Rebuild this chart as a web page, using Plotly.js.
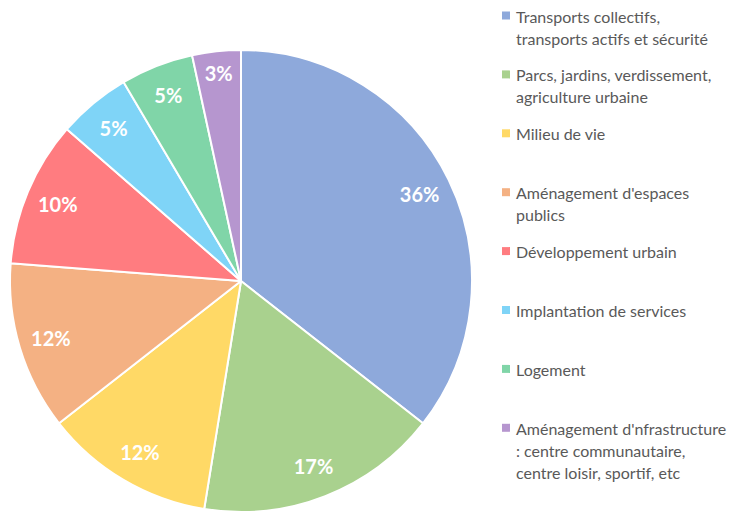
<!DOCTYPE html>
<html>
<head>
<meta charset="utf-8">
<script src="https://cdn.plot.ly/plotly-3.0.1.min.js"></script>
<style>html,body{margin:0;padding:0;background:#fff;}#chart{width:742px;height:512px;}</style>
</head>
<body>
<div id="chart"></div>
<script>
// Data
const categories = [
  "Transports collectifs,|transports actifs et sécurité",
  "Parcs, jardins, verdissement,|agriculture urbaine",
  "Milieu de vie",
  "Aménagement d'espaces|publics",
  "Développement urbain",
  "Implantation de services",
  "Logement",
  "Aménagement d'nfrastructure|: centre communautaire,|centre loisir, sportif, etc"
];
const values = [35.6, 17.0, 11.9, 11.8, 10.2, 5.1, 5.1, 3.4];
const colors = ["#8EA9DB", "#A9D18E", "#FFD966", "#F4B183", "#FF7C80", "#7FD4F7", "#80D5A8", "#B696CF"];

const W = 742, H = 512;
const names = categories.map(c => c.split("|").join(" "));
const dom = {x: [10 / W, 472 / W], y: [0, 1 - 50 / H]};

const pieBase = {
  type: "pie",
  values: values,
  labels: names,
  sort: false,
  direction: "clockwise",
  rotation: 0,
  domain: dom,
  marker: {colors: colors, line: {color: "#ffffff", width: 2}},
  textinfo: "none",
  hoverinfo: "label+percent",
  showlegend: false
};
const pieText = {
  type: "pie",
  values: values,
  labels: names,
  sort: false,
  direction: "clockwise",
  rotation: 0,
  domain: dom,
  hole: 0.72,
  marker: {colors: colors.map(() => "rgba(0,0,0,0)"), line: {width: 0}},
  texttemplate: "%{percent:.0%}",
  textposition: "inside",
  insidetextorientation: "horizontal",
  insidetextfont: {family: "Lato, sans-serif", size: 20, color: "#ffffff", weight: "bold"},
  hoverinfo: "skip",
  showlegend: false
};

// Legend built from categories
const annotations = [];
const shapes = [];
categories.forEach((c, i) => {
  const yc = 16 + i * 58.9;
  shapes.push({
    type: "rect", xref: "paper", yref: "paper",
    x0: 502 / W, x1: 510 / W, y0: 1 - (yc - 4.5) / H, y1: 1 - (yc + 3.5) / H,
    fillcolor: colors[i], line: {width: 0}
  });
  c.split("|").forEach((line, j) => {
    annotations.push({
      xref: "paper", yref: "paper", x: 514 / W, y: 1 - (yc + j * 22) / H,
      xanchor: "left", yanchor: "middle", showarrow: false,
      text: line, font: {family: "Lato, sans-serif", size: 16, color: "#595959"}
    });
  });
});

const layout = {
  width: W, height: H,
  margin: {l: 0, r: 0, t: 0, b: 0},
  paper_bgcolor: "#ffffff",
  showlegend: false,
  annotations: annotations,
  shapes: shapes
};
Plotly.newPlot("chart", [pieBase, pieText], layout, {displayModeBar: false, staticPlot: true});
</script>
</body>
</html>
